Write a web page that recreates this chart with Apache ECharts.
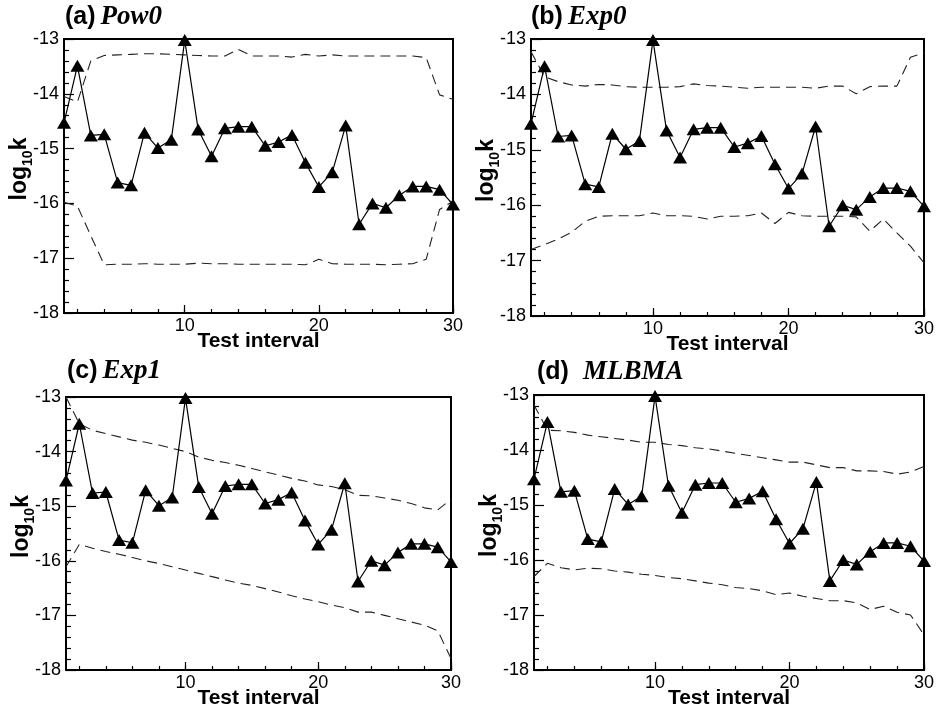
<!DOCTYPE html>
<html>
<head>
<meta charset="utf-8">
<script src="https://cdn.jsdelivr.net/npm/echarts@6/dist/echarts.min.js"></script>
<style>
  html, body { margin: 0; padding: 0; background: #fff; }
  #chart { width: 937px; height: 715px; }
</style>
</head>
<body>
<div id="chart"></div>
<script>
// Test intervals on the x axis
const intervals = [1,2,3,4,5,6,7,8,9,10,11,12,13,14,15,16,17,18,19,20,21,22,23,24,25,26,27,28,29,30];

// Observed log10 k for each test interval (same in every panel)
const observedLogK = [-14.53,-13.49,-14.76,-14.74,-15.62,-15.67,-14.71,-14.99,-14.84,-13.02,
                      -14.65,-15.14,-14.63,-14.60,-14.60,-14.95,-14.88,-14.75,-15.26,-15.70,
                      -15.43,-14.58,-16.38,-16.00,-16.08,-15.85,-15.69,-15.69,-15.75,-16.02];

// Predictive bounds, one pair per model
const pow0Upper = [-14.05,-14.15,-13.40,-13.30,-13.29,-13.28,-13.27,-13.27,-13.28,-13.29,
                   -13.30,-13.31,-13.31,-13.19,-13.31,-13.31,-13.31,-13.33,-13.28,-13.31,
                   -13.29,-13.31,-13.31,-13.31,-13.31,-13.31,-13.31,-13.34,-14.02,-14.10];
const pow0Lower = [-15.98,-16.05,-16.59,-17.12,-17.11,-17.11,-17.10,-17.11,-17.11,-17.11,
                   -17.09,-17.10,-17.10,-17.11,-17.11,-17.11,-17.11,-17.11,-17.12,-17.02,
                   -17.10,-17.11,-17.11,-17.11,-17.12,-17.11,-17.10,-17.02,-16.11,-15.96];

const exp0Upper = [-13.23,-13.68,-13.77,-13.83,-13.85,-13.82,-13.83,-13.86,-13.87,-13.87,
                   -13.87,-13.86,-13.81,-13.84,-13.85,-13.87,-13.89,-13.87,-13.87,-13.87,
                   -13.87,-13.89,-13.85,-13.85,-13.99,-13.86,-13.85,-13.85,-13.33,-13.25];
const exp0Lower = [-16.80,-16.71,-16.61,-16.49,-16.29,-16.20,-16.19,-16.19,-16.19,-16.14,
                   -16.19,-16.19,-16.20,-16.25,-16.20,-16.20,-16.19,-16.14,-16.33,-16.13,
                   -16.19,-16.20,-16.20,-16.20,-16.21,-16.47,-16.25,-16.50,-16.74,-17.04];

const exp1Upper = [-13.00,-13.49,-13.61,-13.67,-13.73,-13.79,-13.83,-13.88,-13.94,-14.00,
                   -14.10,-14.16,-14.20,-14.25,-14.31,-14.37,-14.43,-14.49,-14.54,-14.61,
                   -14.64,-14.70,-14.80,-14.81,-14.85,-14.89,-14.95,-15.03,-15.07,-14.87];
const exp1Lower = [-16.11,-15.70,-15.77,-15.83,-15.88,-15.94,-16.00,-16.05,-16.11,-16.17,
                   -16.23,-16.29,-16.35,-16.41,-16.45,-16.51,-16.57,-16.64,-16.70,-16.75,
                   -16.81,-16.86,-16.94,-16.94,-17.00,-17.06,-17.12,-17.18,-17.28,-17.79];

const mlbmaUpper = [-13.18,-13.64,-13.65,-13.68,-13.73,-13.76,-13.79,-13.82,-13.86,-13.86,
                    -13.90,-13.92,-13.96,-13.98,-14.02,-14.06,-14.10,-14.14,-14.18,-14.22,
                    -14.22,-14.27,-14.32,-14.32,-14.38,-14.38,-14.39,-14.44,-14.40,-14.30];
const mlbmaLower = [-16.30,-16.06,-16.14,-16.18,-16.15,-16.16,-16.20,-16.22,-16.26,-16.28,
                    -16.32,-16.34,-16.38,-16.42,-16.45,-16.50,-16.52,-16.56,-16.63,-16.60,
                    -16.66,-16.70,-16.74,-16.74,-16.78,-16.90,-16.84,-16.95,-17.00,-17.36];

// Axis tick values
const xLabelTicks = [10, 20, 30];
const xMinorTicks = [2,4,6,8,10,12,14,16,18,20,22,24,26,28,30];
const yMin = -18, yMax = -13;

// Panel tags and model names
const panelTags = ['(a)', '(b)', '(c)', '(d)'];
const modelNames = ['Pow0', 'Exp0', 'Exp1', 'MLBMA'];
const upperBounds = [pow0Upper, exp0Upper, exp1Upper, mlbmaUpper];
const lowerBounds = [pow0Lower, exp0Lower, exp1Lower, mlbmaLower];

// Layout of the four plot frames
const frames = [
  { left: 64,  top: 39,  width: 389, height: 274, titleX: 65,  titleY: 17,  gap: 1 },
  { left: 531, top: 39,  width: 393, height: 277, titleX: 531, titleY: 17,  gap: 1 },
  { left: 66,  top: 397, width: 385, height: 273, titleX: 67,  titleY: 371, gap: 1 },
  { left: 534, top: 395, width: 390, height: 275, titleX: 537, titleY: 372, gap: 10 }
];

const SANS = 'Arial, "Liberation Sans", sans-serif';
const SERIF = '"Times New Roman", "Liberation Serif", serif';

const pairs = arr => intervals.map((x, i) => [x, arr[i]]);

const grid = [], xAxis = [], yAxis = [], series = [], graphic = [];

frames.forEach((f, i) => {
  grid.push({
    left: f.left, top: f.top, width: f.width, height: f.height,
    show: true, borderColor: '#000', borderWidth: 2,
    outerBoundsMode: 'none'
  });

  // main x axis: labels at 10/20/30 and short ticks at even intervals
  xAxis.push({
    type: 'value', gridIndex: i, min: 1, max: 30,
    axisLine: { show: true, onZero: false, lineStyle: { color: '#000', width: 2 } },
    axisTick: { show: true, inside: true, length: 4, customValues: xMinorTicks,
                lineStyle: { color: '#000', width: 1.2 } },
    axisLabel: { customValues: xLabelTicks, color: '#000', fontFamily: SANS, fontSize: 18, margin: 4 },
    splitLine: { show: false },
    name: 'Test interval', nameLocation: 'middle', nameGap: 18, nameMoveOverlap: false,
    nameTextStyle: { color: '#000', fontFamily: SANS, fontWeight: 'bold', fontSize: 21 }
  });
  // overlay axis carrying the longer ticks at the labelled values
  xAxis.push({
    type: 'value', gridIndex: i, min: 1, max: 30, position: 'bottom',
    axisLine: { show: false },
    axisTick: { show: true, inside: true, length: 8, customValues: xLabelTicks,
                lineStyle: { color: '#000', width: 1.2 } },
    axisLabel: { show: false }, splitLine: { show: false }
  });

  yAxis.push({
    type: 'value', gridIndex: i, min: yMin, max: yMax, interval: 1,
    axisLine: { show: true, onZero: false, lineStyle: { color: '#000', width: 2 } },
    axisTick: { show: true, inside: true, length: 10, lineStyle: { color: '#000', width: 1.2 } },
    minorTick: { show: true, splitNumber: 5, length: 5, lineStyle: { color: '#000', width: 1.2 } },
    axisLabel: { color: '#000', fontFamily: SANS, fontSize: 18, margin: 5 },
    splitLine: { show: false },
    name: '{m|log}{s|10}{m|k}', nameLocation: 'middle', nameGap: 33, nameRotate: 90,
    nameMoveOverlap: false,
    nameTextStyle: {
      padding: [0, 0, 0, 14],
      rich: {
        m: { fontFamily: SANS, fontWeight: 'bold', fontSize: 23, color: '#000', verticalAlign: 'bottom' },
        s: { fontFamily: SANS, fontWeight: 'bold', fontSize: 14, color: '#000', verticalAlign: 'bottom', padding: [0, 0, -4, 0] }
      }
    }
  });

  const xi = i * 2;
  series.push({
    type: 'line', xAxisIndex: xi, yAxisIndex: i, data: pairs(upperBounds[i]),
    symbol: 'none', silent: true,
    lineStyle: { color: '#222', width: 1.1, type: [10, 6] }
  });
  series.push({
    type: 'line', xAxisIndex: xi, yAxisIndex: i, data: pairs(lowerBounds[i]),
    symbol: 'none', silent: true,
    lineStyle: { color: '#222', width: 1.1, type: [10, 6] }
  });
  series.push({
    type: 'line', xAxisIndex: xi, yAxisIndex: i, data: pairs(observedLogK),
    symbol: 'triangle', symbolSize: [14, 12], silent: true,
    itemStyle: { color: '#000' },
    lineStyle: { color: '#000', width: 1.2 },
    z: 5
  });

  graphic.push({
    type: 'text', x: f.titleX, y: f.titleY,
    style: {
      text: '{t|' + panelTags[i] + '}{g|}{n|' + modelNames[i] + '}',
      verticalAlign: 'middle',
      rich: {
        t: { fontFamily: SANS, fontWeight: 'bold', fontSize: 25, fill: '#000' },
        g: { width: f.gap + 4 },
        n: { fontFamily: SERIF, fontWeight: 'bold', fontStyle: 'italic', fontSize: 27, fill: '#000' }
      }
    }
  });
});

const chart = echarts.init(document.getElementById('chart'), null, { renderer: 'canvas' });
chart.setOption({
  animation: false,
  backgroundColor: '#fff',
  grid, xAxis, yAxis, series, graphic
});
</script>
</body>
</html>
